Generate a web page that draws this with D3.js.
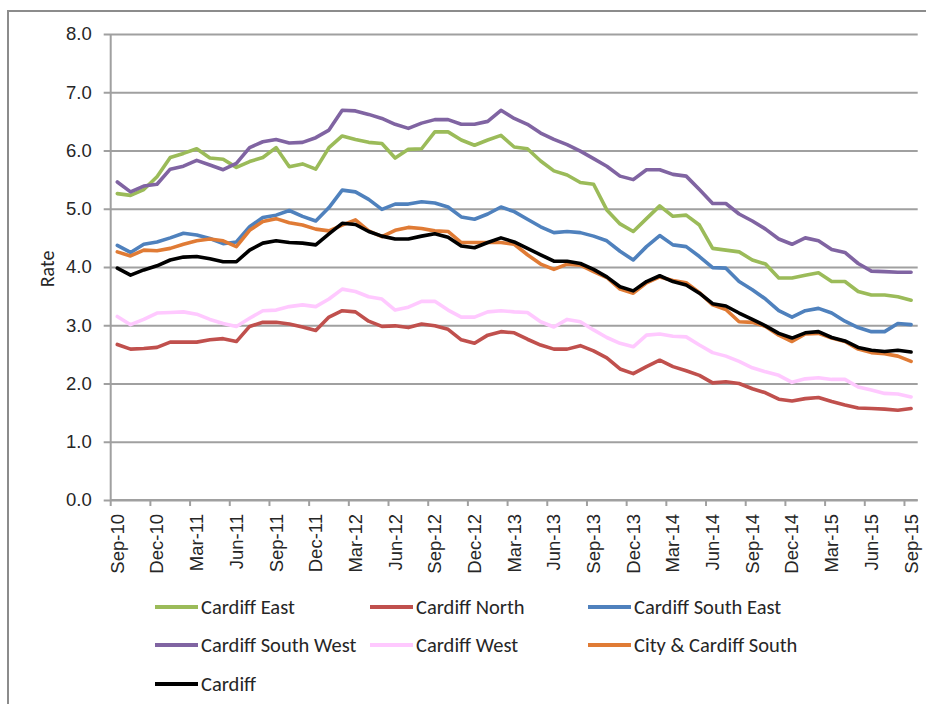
<!DOCTYPE html>
<html>
<head>
<meta charset="utf-8">
<script src="https://cdn.jsdelivr.net/npm/d3@7"></script>
<style>
  html, body { margin: 0; padding: 0; background: #fff; }
  svg { display: block; font-family: Carlito, Lato, "Liberation Sans", sans-serif; }
</style>
</head>
<body>
<svg id="chart" width="926" height="704"></svg>
<script>
// ---- data ----
const startMonth = "2010-09";
const monthCount = 61;
const tickLabels = ["Sep-10","Dec-10","Mar-11","Jun-11","Sep-11","Dec-11","Mar-12","Jun-12","Sep-12","Dec-12",
  "Mar-13","Jun-13","Sep-13","Dec-13","Mar-14","Jun-14","Sep-14","Dec-14","Mar-15","Jun-15","Sep-15"];
const yTicks = [0,1,2,3,4,5,6,7,8];
const seriesNames = ["Cardiff East","Cardiff North","Cardiff South East","Cardiff South West","Cardiff West","City & Cardiff South","Cardiff"];
const seriesColors = ["#9bbb59","#c0504d","#4f81bd","#8064a2","#ffc9ff","#e07b35","#000000"];

const cardiffEast = [5.26,5.23,5.33,5.55,5.88,5.95,6.03,5.87,5.85,5.71,5.81,5.88,6.05,5.72,5.77,5.68,6.05,6.25,6.19,6.14,
  6.12,5.87,6.02,6.03,6.32,6.32,6.18,6.09,6.18,6.26,6.06,6.03,5.82,5.65,5.58,5.45,5.42,4.98,4.74,4.61,
  4.83,5.05,4.87,4.89,4.72,4.32,4.29,4.26,4.12,4.05,3.81,3.81,3.86,3.90,3.75,3.75,3.58,3.52,3.52,3.49,3.43];
const cardiffNorth = [2.67,2.59,2.60,2.62,2.71,2.71,2.71,2.75,2.77,2.72,2.98,3.05,3.05,3.02,2.97,2.91,3.14,3.25,3.23,3.07,
  2.98,2.99,2.96,3.02,2.99,2.93,2.75,2.69,2.83,2.89,2.87,2.76,2.66,2.59,2.59,2.65,2.56,2.44,2.25,2.17,
  2.29,2.40,2.29,2.22,2.14,2.01,2.03,2.00,1.91,1.84,1.73,1.70,1.74,1.76,1.69,1.63,1.58,1.57,1.56,1.54,1.57];
const cardiffSouthEast = [4.37,4.25,4.39,4.43,4.50,4.58,4.55,4.49,4.40,4.43,4.69,4.85,4.89,4.97,4.87,4.79,5.02,5.32,5.29,5.16,
  4.99,5.08,5.08,5.12,5.10,5.03,4.86,4.82,4.91,5.03,4.95,4.82,4.69,4.59,4.61,4.59,4.53,4.45,4.27,4.12,
  4.35,4.54,4.38,4.35,4.18,3.99,3.98,3.75,3.61,3.45,3.25,3.14,3.25,3.29,3.21,3.07,2.96,2.89,2.89,3.03,3.01];
const cardiffSouthWest = [5.46,5.29,5.39,5.42,5.68,5.73,5.83,5.75,5.67,5.78,6.05,6.15,6.19,6.13,6.14,6.22,6.35,6.69,6.68,6.62,
  6.55,6.45,6.38,6.47,6.53,6.53,6.45,6.45,6.50,6.69,6.55,6.45,6.30,6.19,6.10,5.99,5.86,5.73,5.56,5.50,
  5.67,5.67,5.59,5.56,5.33,5.09,5.09,4.91,4.79,4.65,4.48,4.39,4.50,4.45,4.30,4.25,4.06,3.93,3.92,3.91,3.91];
const cardiffWest = [3.15,3.01,3.10,3.21,3.22,3.23,3.19,3.10,3.03,2.98,3.12,3.25,3.26,3.32,3.35,3.32,3.45,3.62,3.58,3.49,
  3.45,3.26,3.31,3.41,3.41,3.26,3.14,3.14,3.23,3.25,3.23,3.22,3.06,2.97,3.10,3.06,2.92,2.79,2.69,2.63,
  2.83,2.85,2.81,2.80,2.66,2.53,2.47,2.38,2.27,2.20,2.14,2.02,2.08,2.10,2.07,2.07,1.94,1.89,1.83,1.82,1.77];
const cityCardiffSouth = [4.26,4.19,4.29,4.28,4.32,4.39,4.45,4.48,4.45,4.35,4.63,4.78,4.83,4.76,4.72,4.65,4.62,4.72,4.81,4.62,
  4.52,4.63,4.68,4.66,4.62,4.61,4.42,4.42,4.42,4.42,4.39,4.21,4.05,3.96,4.05,4.03,3.92,3.82,3.62,3.55,
  3.73,3.83,3.77,3.73,3.56,3.35,3.27,3.06,3.05,2.98,2.83,2.72,2.85,2.86,2.78,2.72,2.59,2.53,2.51,2.47,2.38];
const cardiff = [3.98,3.86,3.95,4.02,4.12,4.17,4.18,4.14,4.09,4.09,4.29,4.41,4.45,4.42,4.41,4.38,4.57,4.75,4.73,4.61,
  4.53,4.48,4.48,4.53,4.57,4.51,4.36,4.33,4.42,4.50,4.43,4.32,4.21,4.10,4.10,4.06,3.96,3.83,3.66,3.59,
  3.75,3.85,3.75,3.69,3.55,3.37,3.33,3.21,3.10,2.99,2.86,2.78,2.87,2.89,2.79,2.73,2.62,2.57,2.55,2.57,2.54];

const seriesValues = [cardiffEast, cardiffNorth, cardiffSouthEast, cardiffSouthWest, cardiffWest, cityCardiffSouth, cardiff];

// ---- build ----
(function () {
const fmtMonth = d3.timeFormat("%b-%y");
const start = d3.timeParse("%Y-%m")(startMonth);
const months = d3.range(monthCount).map(i => fmtMonth(d3.timeMonth.offset(start, i)));

const svg = d3.select("#chart");
const pL = 110.7, pR = 917.7, pT = 34, pB = 500;

// outer chart border
svg.append("rect").attr("x", 8).attr("y", 11).attr("width", 930).attr("height", 720)
  .attr("fill", "none").attr("stroke", "#8c8c8c").attr("stroke-width", 2);

const x = d3.scaleBand().domain(months).range([pL, pR]).padding(0);
const y = d3.scaleLinear().domain([0, 8]).range([pB, pT]);

// gridlines + y axis
const yAxis = d3.axisLeft(y).tickValues(yTicks).tickFormat(d3.format(".1f"))
  .tickSize(-(pR - pL)).tickPadding(14);
const gy = svg.append("g").attr("transform", `translate(${pL},0)`).call(yAxis);
gy.select(".domain").remove();
gy.selectAll(".tick line").attr("stroke", "#a0a0a0").attr("stroke-width", 2).attr("x1", -7);
gy.selectAll(".tick text").attr("fill", "#262626").attr("font-size", 18.5).attr("x", -19);

// y axis line
svg.append("line").attr("x1", pL).attr("x2", pL).attr("y1", pT).attr("y2", pB)
  .attr("stroke", "#a0a0a0").attr("stroke-width", 2);

// x axis
const tickMonths = months.filter(m => tickLabels.includes(m));
const xAxis = d3.axisBottom(x).tickValues(tickMonths).tickSize(6).tickSizeOuter(0);
const gx = svg.append("g").attr("transform", `translate(0,${pB})`).call(xAxis);
gx.select(".domain").attr("stroke", "#a0a0a0").attr("stroke-width", 2)
  .attr("d", `M${pL},0H${pR}`);
gx.selectAll(".tick").attr("transform", d => `translate(${x(d)},0)`);
gx.selectAll(".tick line").attr("stroke", "#a0a0a0").attr("stroke-width", 2);
gx.selectAll(".tick text")
  .attr("fill", "#262626").attr("font-size", 18.5)
  .attr("transform", "rotate(-90)")
  .attr("x", -14).attr("y", x.bandwidth() / 2).attr("dy", "0.35em")
  .attr("text-anchor", "end");

// y title
svg.append("text").attr("transform", "translate(47,269) rotate(-90)")
  .attr("text-anchor", "middle").attr("dy", "0.35em")
  .attr("font-size", 20).attr("fill", "#262626").text("Rate");

// lines
const line = d3.line()
  .x((d, i) => x(months[i]) + x.bandwidth() / 2)
  .y(d => y(d));
seriesValues.forEach((vals, k) => {
  svg.append("path").datum(vals).attr("d", line)
    .attr("fill", "none").attr("stroke", seriesColors[k])
    .attr("stroke-width", 3.6).attr("stroke-linejoin", "round").attr("stroke-linecap", "round");
});

// legend
const legX = [155, 370, 588];
const legY = [607, 645, 684];
seriesNames.forEach((name, k) => {
  const cx = legX[k % 3], cy = legY[Math.floor(k / 3)];
  const g = svg.append("g");
  g.append("line").attr("x1", cx).attr("x2", cx + 43).attr("y1", cy).attr("y2", cy)
    .attr("stroke", seriesColors[k]).attr("stroke-width", 4);
  g.append("text").attr("x", cx + 46).attr("y", cy).attr("dy", "0.35em")
    .attr("font-size", 20.5).attr("fill", "#262626").text(name);
});
})();
</script>
</body>
</html>
